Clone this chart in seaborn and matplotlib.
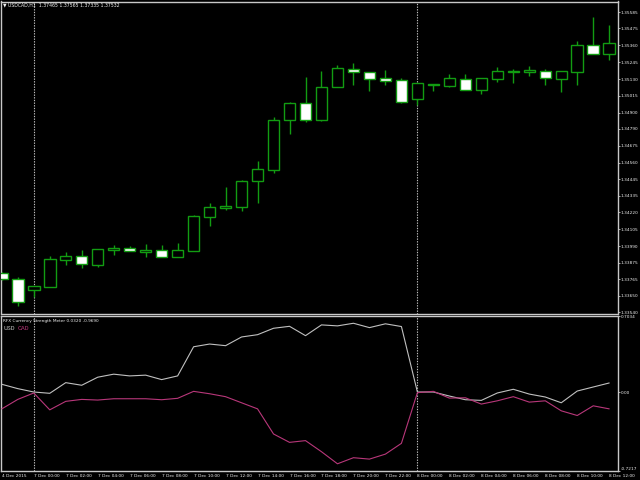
import numpy as np
import pandas as pd
import matplotlib
matplotlib.use("Agg")
import matplotlib.pyplot as plt
import seaborn as sns

# --- USDCAD H1 candles, 4 Dec 22:00 -> 8 Dec 12:00 ---
opens = [1.33804, 1.33763, 1.33688, 1.33713, 1.33897, 1.33920, 1.33863, 1.33965,
         1.33975, 1.33952, 1.33961, 1.33917, 1.33954, 1.34190, 1.34252, 1.34255,
         1.34432, 1.34511, 1.34848, 1.34964, 1.34848, 1.35073, 1.35200, 1.35176,
         1.35139, 1.35121, 1.34992, 1.35096, 1.35084, 1.35132, 1.35057, 1.35132,
         1.35180, 1.35180, 1.35187, 1.35132, 1.35180, 1.35360, 1.35299]
highs = [1.33813, 1.33777, 1.33717, 1.33922, 1.33949, 1.33963, 1.33968, 1.33997,
         1.33988, 1.34002, 1.33997, 1.34013, 1.34202, 1.34282, 1.34393, 1.34441,
         1.34570, 1.34871, 1.34971, 1.35144, 1.35183, 1.35226, 1.35237, 1.35180,
         1.35189, 1.35135, 1.35101, 1.35096, 1.35162, 1.35164, 1.35135, 1.35212,
         1.35196, 1.35219, 1.35200, 1.35183, 1.35387, 1.35551, 1.35499]
lows = [1.33758, 1.33583, 1.33644, 1.33713, 1.33861, 1.33842, 1.33847, 1.33931,
        1.33954, 1.33915, 1.33917, 1.33913, 1.33954, 1.34129, 1.34236, 1.34229,
        1.34282, 1.34491, 1.34757, 1.34835, 1.34841, 1.35073, 1.35091, 1.35046,
        1.35091, 1.34966, 1.34953, 1.35046, 1.35077, 1.35053, 1.35030, 1.35112,
        1.35105, 1.35148, 1.35087, 1.35043, 1.35091, 1.35299, 1.35258]
closes = [1.33767, 1.33610, 1.33715, 1.33900, 1.33920, 1.33866, 1.33968, 1.33975,
          1.33954, 1.33963, 1.33917, 1.33961, 1.34193, 1.34255, 1.34263, 1.34432,
          1.34514, 1.34848, 1.34964, 1.34848, 1.35073, 1.35203, 1.35176, 1.35132,
          1.35118, 1.34971, 1.35101, 1.35087, 1.35135, 1.35053, 1.35135, 1.35183,
          1.35185, 1.35189, 1.35139, 1.35183, 1.35360, 1.35299, 1.35374]

# --- RFX currency strength meter ---
usd_strength = [0.071, 0.031, 0.000, -0.012, 0.086, 0.062, 0.136, 0.164, 0.148, 0.155,
                0.114, 0.148, 0.416, 0.441, 0.426, 0.506, 0.527, 0.586, 0.604, 0.518,
                0.617, 0.608, 0.632, 0.592, 0.627, 0.602, 0.000, 0.000, -0.037, -0.071,
                -0.077, -0.009, 0.025, -0.019, -0.046, -0.099, 0.009, 0.046, 0.083]
cad_strength = [-0.155, -0.068, -0.009, -0.164, -0.086, -0.068, -0.074, -0.062, -0.062, -0.062,
                -0.071, -0.058, 0.006, -0.016, -0.043, -0.099, -0.155, -0.386, -0.463, -0.447,
                -0.549, -0.660, -0.604, -0.617, -0.571, -0.472, -0.006, 0.006, -0.056, -0.053,
                -0.111, -0.081, -0.043, -0.093, -0.081, -0.173, -0.216, -0.127, -0.155]

time_labels = ["4 Dec 2015",
               "7 Dec 00:00", "7 Dec 02:00", "7 Dec 04:00", "7 Dec 06:00", "7 Dec 08:00",
               "7 Dec 10:00", "7 Dec 12:00", "7 Dec 14:00", "7 Dec 16:00", "7 Dec 18:00",
               "7 Dec 20:00", "7 Dec 22:00",
               "8 Dec 00:00", "8 Dec 02:00", "8 Dec 04:00", "8 Dec 06:00", "8 Dec 08:00",
               "8 Dec 10:00", "8 Dec 12:00"]
price_ticks = [1.33540, 1.33650, 1.33765, 1.33875, 1.33990, 1.34105, 1.34220, 1.34335,
               1.34445, 1.34560, 1.34675, 1.34790, 1.34900, 1.35015, 1.35130, 1.35245,
               1.35360, 1.35475, 1.35585]
day_starts = [2, 26]
ind_min, ind_max = -0.7217, 0.7034

FG = "#C8C8C8"
TXT = "#F0F0F0"
GREEN = "#129C12"
PINK = "#B8377A"
SILVER = "#C0C0C0"
FS = 3.1

sns.set_style("dark", {"axes.facecolor": "black", "figure.facecolor": "black",
                       "axes.edgecolor": FG, "grid.color": "black"})
plt.rcParams["font.family"] = ["DejaVu Sans"]

W, H = 640, 480
fig = plt.figure(figsize=(6.4, 4.8), dpi=100)
ax = fig.add_axes([1 / W, 1 - 313.5 / H, 617 / W, 312 / H])
ax2 = fig.add_axes([1 / W, 1 - 470.5 / H, 617 / W, 155 / H], sharex=ax)

df = pd.DataFrame({"bar": np.arange(len(opens)), "open": opens, "high": highs,
                   "low": lows, "close": closes,
                   "USD": usd_strength, "CAD": cad_strength})

# candles
ax.vlines(df["bar"], df["low"], df["high"], color=GREEN, lw=1, zorder=2)
body_lo = df[["open", "close"]].min(axis=1)
body_h = (df["close"] - df["open"]).abs().clip(lower=0.000005)
fill = np.where(df["close"] < df["open"], "white", "black")
ax.bar(df["bar"], body_h, bottom=body_lo, width=0.72, color=fill,
       edgecolor=GREEN, linewidth=1, zorder=3)

# indicator lines
sns.lineplot(data=df, x="bar", y="USD", color=SILVER, lw=0.8, ax=ax2, zorder=3)
sns.lineplot(data=df, x="bar", y="CAD", color=PINK, lw=0.8, ax=ax2, zorder=3)

for a in (ax, ax2):
    for d in day_starts:
        a.axvline(d, color=SILVER, lw=0.8, ls=(0, (1.2, 1.2)), zorder=1)
    a.grid(False)
    a.set_xlabel("")
    a.set_ylabel("")
    a.yaxis.tick_right()
    a.tick_params(axis="y", direction="out", length=1.5, width=0.6, color=FG,
                  labelsize=FS, labelcolor=TXT, pad=0.6)
    for s in a.spines.values():
        s.set_color(FG)
        s.set_linewidth(1)

ax.set_xlim(-0.05, 38.55)
ax.set_ylim(1.33530, 1.35659)
ax.set_yticks(price_ticks)
ax.set_yticklabels([f"{p:.5f}" for p in price_ticks])
ax.tick_params(axis="x", bottom=False, labelbottom=False)

ax2.set_ylim(ind_min, ind_max)
ax2.set_yticks([ind_min, 0, ind_max])
ax2.set_yticklabels([f"{ind_min:.4f}", "0.00", f"{ind_max:.4f}"])
ax2.set_xticks(np.arange(0, 39, 2))
ax2.set_xticklabels(time_labels)
ax2.tick_params(axis="x", direction="out", length=2, width=0.6, color=FG,
                labelsize=FS, labelcolor=TXT, pad=0.8)
for lab in ax2.get_xticklabels():
    lab.set_ha("left")
ylabs = ax2.get_yticklabels()
ylabs[0].set_va("bottom")
ylabs[2].set_va("top")

# header texts
fig.text(3 / W, 1 - 5 / H, "\u25bc USDCAD,H1  1.37465 1.37565 1.37335 1.37532",
         color=TXT, fontsize=3.3, va="center", ha="left")
fig.text(3 / W, 1 - 321 / H, "RFX Currency Strength Meter 0.0320 -0.9690",
         color=TXT, fontsize=3.1, va="center", ha="left")
fig.text(4 / W, 1 - 328 / H, "USD", color=SILVER, fontsize=4.6,
         family="Liberation Mono", va="center", ha="left")
fig.text(18 / W, 1 - 328 / H, "CAD", color=PINK, fontsize=4.6,
         family="Liberation Mono", va="center", ha="left")

fig.savefig("out.png", dpi=100, facecolor="black")
